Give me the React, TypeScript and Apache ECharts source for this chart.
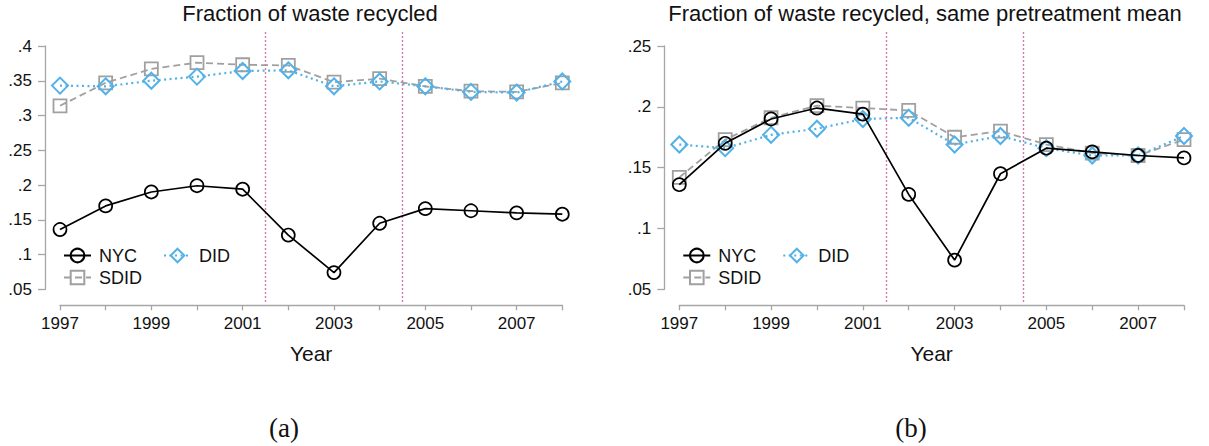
import React, { useEffect, useRef } from "react";
import * as echarts from "echarts";

const years = [1997, 1998, 1999, 2000, 2001, 2002, 2003, 2004, 2005, 2006, 2007, 2008];
const nyc = [0.136, 0.170, 0.190, 0.199, 0.194, 0.128, 0.074, 0.145, 0.166, 0.163, 0.160, 0.158];
const sdidA = [0.314, 0.347, 0.367, 0.376, 0.373, 0.372, 0.348, 0.353, 0.342, 0.335, 0.334, 0.347];
const didA = [0.343, 0.342, 0.350, 0.356, 0.364, 0.365, 0.342, 0.349, 0.342, 0.334, 0.333, 0.349];
const sdidB = [0.142, 0.173, 0.191, 0.201, 0.199, 0.197, 0.175, 0.180, 0.169, 0.162, 0.160, 0.173];
const didB = [0.169, 0.166, 0.177, 0.182, 0.190, 0.191, 0.169, 0.176, 0.166, 0.160, 0.160, 0.176];
const treatmentLines = [2001.5, 2004.5];
const titles = ["Fraction of waste recycled", "Fraction of waste recycled, same pretreatment mean"];
const captions = ["(a)", "(b)"];
const yRanges = [
  [0.05, 0.4],
  [0.05, 0.25],
];

const FONT = "'Liberation Sans', Arial, Helvetica, sans-serif";
const AXIS_COLOR = "#a6a6a6";
const BLUE = "#52b2e8";
const GREY = "#a0a0a0";
const PINK = "#d877aa";

function pairs(vals: number[]) {
  return years.map((y, i) => [y, vals[i]]);
}

function fmtY(v: number) {
  const r = Math.round(v * 100) / 100;
  return String(r).replace(/^0/, "");
}

export default function App() {
  const ref = useRef<HTMLDivElement>(null);
  useEffect(() => {
    document.body.style.margin = "0";
    const chart = echarts.init(ref.current!, null, { renderer: "svg" });

    const panels = [
      { left: 60, right: 1209 - 562.3, sdid: sdidA, did: didA, yr: yRanges[0], titleX: 310, capX: 284 },
      { left: 679.3, right: 1209 - 1184, sdid: sdidB, did: didB, yr: yRanges[1], titleX: 925, capX: 911 },
    ];

    const grid: any[] = [];
    const xAxis: any[] = [];
    const yAxis: any[] = [];
    const series: any[] = [];
    const legend: any[] = [];
    const title: any[] = [];
    const graphic: any[] = [];

    panels.forEach((p, pi) => {
      const gi = grid.length;
      grid.push({ left: p.left, right: p.right, top: 46, bottom: 446 - 289.3 });
      xAxis.push({
        gridIndex: gi,
        type: "value",
        min: 1997,
        max: 2008,
        interval: 1,
        offset: 16,
        name: "Year",
        nameLocation: "middle",
        nameGap: 38,
        nameTextStyle: { fontFamily: FONT, fontSize: 21, color: "#111" },
        axisLine: { lineStyle: { color: AXIS_COLOR, width: 1.3 } },
        axisTick: { length: 5, lineStyle: { color: AXIS_COLOR, width: 1.3 } },
        axisLabel: {
          fontFamily: FONT,
          fontSize: 17,
          color: "#111",
          margin: 10,
          formatter: (v: number) => ((v - 1997) % 2 === 0 ? String(v) : ""),
        },
        splitLine: { show: false },
      });
      yAxis.push({
        gridIndex: gi,
        type: "value",
        min: p.yr[0],
        max: p.yr[1],
        interval: 0.05,
        offset: 15,
        axisLine: { show: true, lineStyle: { color: AXIS_COLOR, width: 1.3 } },
        axisTick: { show: true, length: 7, lineStyle: { color: AXIS_COLOR, width: 1.3 } },
        axisLabel: { fontFamily: FONT, fontSize: 17, color: "#111", margin: 13, formatter: fmtY },
        splitLine: { show: false },
      });

      // overlay grid for vertical treatment lines
      const oi = grid.length;
      grid.push({ left: p.left, right: p.right, top: 32, bottom: 446 - 302 });
      xAxis.push({ gridIndex: oi, type: "value", min: 1997, max: 2008, show: false });
      yAxis.push({ gridIndex: oi, type: "value", min: 0, max: 1, show: false });
      series.push({
        type: "line",
        xAxisIndex: oi,
        yAxisIndex: oi,
        data: [],
        silent: true,
        markLine: {
          silent: true,
          symbol: ["none", "none"],
          label: { show: false },
          lineStyle: { color: PINK, type: [2, 2], width: 1.4 },
          data: treatmentLines.map((x) => ({ xAxis: x })),
        },
      });

      series.push({
        name: "SDID",
        type: "line",
        xAxisIndex: gi,
        yAxisIndex: gi,
        data: pairs(p.sdid),
        symbol: "rect",
        symbolSize: 13,
        lineStyle: { color: GREY, width: 1.8, type: [7, 4] },
        itemStyle: { color: "rgba(0,0,0,0)", borderColor: GREY, borderWidth: 1.8 },
        z: 3,
      });
      series.push({
        name: "DID",
        type: "line",
        xAxisIndex: gi,
        yAxisIndex: gi,
        data: pairs(p.did),
        symbol: "diamond",
        symbolSize: 16,
        lineStyle: { color: BLUE, width: 2.2, type: [2, 3.5] },
        itemStyle: { color: "rgba(0,0,0,0)", borderColor: BLUE, borderWidth: 2 },
        z: 4,
      });
      series.push({
        name: "NYC",
        type: "line",
        xAxisIndex: gi,
        yAxisIndex: gi,
        data: pairs(nyc),
        symbol: "circle",
        symbolSize: 13,
        lineStyle: { color: "#000", width: 1.7 },
        itemStyle: { color: "rgba(0,0,0,0)", borderColor: "#000", borderWidth: 1.7 },
        z: 5,
      });

      const lx = p.left + 3;
      const legendCommon = {
        orient: "horizontal",
        padding: 0,
        itemWidth: 27,
        itemHeight: 17,
        selectedMode: false,
        textStyle: { fontFamily: FONT, fontSize: 18, color: "#111", padding: [0, 0, 0, 3] },
      };
      legend.push({ ...legendCommon, data: ["NYC"], left: lx, top: 246.5 });
      legend.push({ ...legendCommon, data: ["DID"], left: lx + 100, top: 246.5 });
      legend.push({ ...legendCommon, data: ["SDID"], left: lx, top: 268.5 });

      title.push({
        text: titles[pi],
        left: p.titleX,
        top: 2,
        textAlign: "center",
        padding: 0,
        textStyle: { fontFamily: FONT, fontSize: 22, fontWeight: "normal", color: "#111" },
      });
      graphic.push({
        type: "text",
        x: p.capX,
        y: 428,
        style: {
          text: captions[pi],
          fontFamily: "'Liberation Serif', 'DejaVu Serif', serif",
          fontSize: 27,
          fill: "#111",
          align: "center",
          verticalAlign: "middle",
        },
      });
    });

    chart.setOption({
      animation: false,
      backgroundColor: "#fff",
      title,
      grid,
      xAxis,
      yAxis,
      legend,
      series,
      graphic,
    });
    return () => chart.dispose();
  }, []);
  return <div ref={ref} style={{ width: 1209, height: 446 }} />;
}
